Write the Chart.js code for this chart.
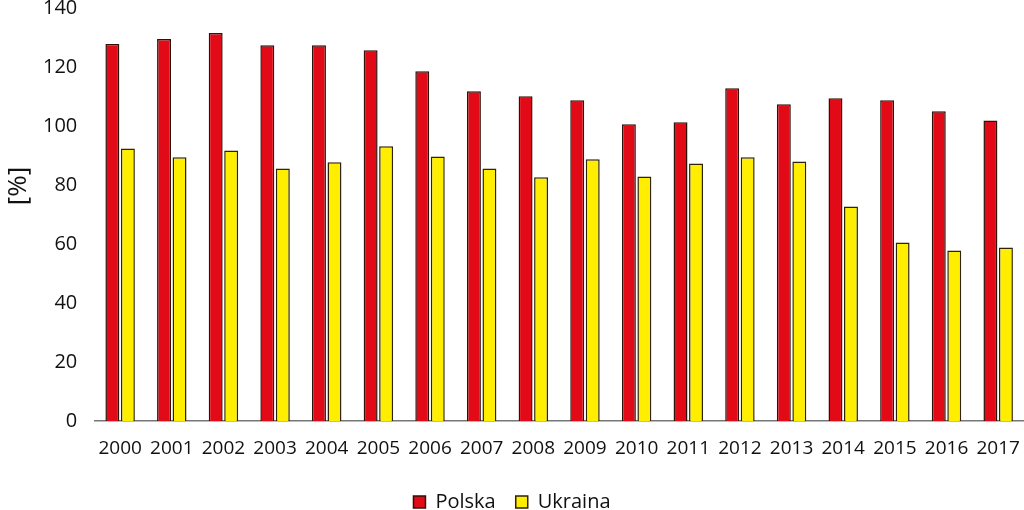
<!DOCTYPE html>
<html>
<head>
<meta charset="utf-8">
<script src="https://cdn.jsdelivr.net/npm/chart.js@4"></script>
<style>
  html, body { margin: 0; padding: 0; background: #fff; }
  #wrap { width: 1024px; height: 510px; }
</style>
</head>
<body>
<div id="wrap"><canvas id="chart"></canvas></div>
<script>
  var years = ["2000", "2001", "2002", "2003", "2004", "2005", "2006", "2007", "2008",
    "2009", "2010", "2011", "2012", "2013", "2014", "2015", "2016", "2017"];
  var polska = [127.8, 129.5, 131.5, 127.4, 127.4, 125.7, 118.6, 111.8, 110.1,
    108.7, 100.6, 101.3, 112.8, 107.4, 109.4, 108.7, 105.0, 101.9];
  var ukraina = [92.4, 89.4, 91.7, 85.6, 87.7, 93.1, 89.7, 85.6, 82.6,
    88.7, 82.9, 87.3, 89.4, 88.0, 72.7, 60.5, 57.8, 58.8];
  var yTicks = [0, 20, 40, 60, 80, 100, 120, 140];
  var yTitle = "[%]";

  var font = "'Open Sans', 'Noto Sans', sans-serif";

  // y axis title drawn by hand so it sits where the original has it
  var yTitlePlugin = {
    id: "yTitle",
    afterDraw: function (chart) {
      var c = chart.ctx;
      c.save();
      c.translate(19, 186);
      c.rotate(-Math.PI / 2);
      c.font = "26px " + font;
      c.fillStyle = "#111";
      c.textAlign = "center";
      c.textBaseline = "middle";
      c.fillText(yTitle, 0, 0);
      c.restore();
    },
  };

  new Chart(document.getElementById("chart"), {
    type: "bar",
    data: {
      labels: years,
      datasets: [
        {
          label: "Polska",
          data: polska,
          backgroundColor: "#e20a17",
          borderColor: "#2e120a",
          borderWidth: 1.5,
          categoryPercentage: 0.6,
          barPercentage: 0.9,
        },
        {
          label: "Ukraina",
          data: ukraina,
          backgroundColor: "#ffee00",
          borderColor: "#2e220a",
          borderWidth: 1.5,
          categoryPercentage: 0.6,
          barPercentage: 0.9,
        },
      ],
    },
    options: {
      responsive: true,
      maintainAspectRatio: false,
      animation: false,
      layout: { padding: { top: 8, right: 0, bottom: -12, left: 0 } },
      plugins: {
        tooltip: { enabled: false },
        legend: {
          position: "bottom",
          labels: {
            font: { family: font, size: 20 },
            color: "#111",
            boxWidth: 12,
            boxHeight: 12,
            padding: 20,
          },
        },
      },
      scales: {
        x: {
          grid: { display: false },
          border: { color: "#777", width: 1.5 },
          afterFit: function (scale) {
            scale.height = 51;
            scale.paddingLeft = 0;
            scale.paddingRight = 0;
          },
          ticks: {
            font: { family: font, size: 19 },
            color: "#111",
            maxRotation: 0,
            padding: 8,
          },
        },
        y: {
          min: 0,
          max: 140,
          afterBuildTicks: function (axis) {
            axis.ticks = yTicks.map(function (v) { return { value: v }; });
          },
          afterFit: function (scale) {
            scale.width += 34; // room for the hand-drawn title
            scale.paddingTop = 0;
            scale.paddingBottom = 0;
          },
          grid: { display: false },
          border: { display: false },
          ticks: {
            font: { family: font, size: 20 },
            color: "#111",
            padding: 9,
          },
        },
      },
    },
    plugins: [yTitlePlugin],
  });
</script>
</body>
</html>
